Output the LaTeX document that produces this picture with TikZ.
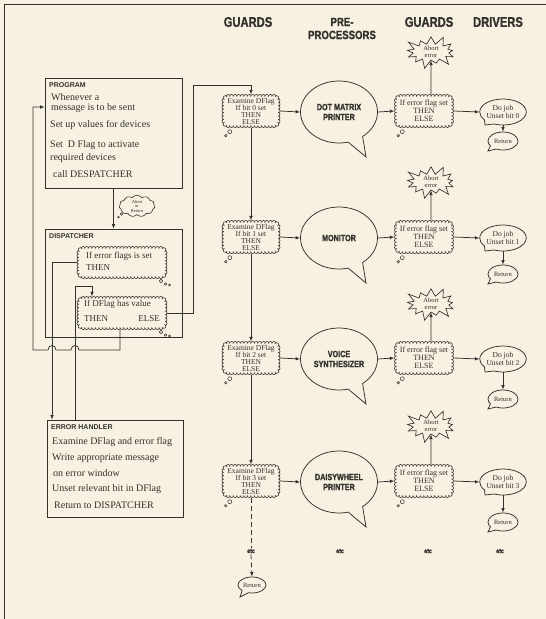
\documentclass[tikz,border=0pt]{standalone}
\usepackage{fontspec}
\setmainfont{Liberation Serif}
\newfontfamily\hdr[FakeStretch=0.8,FakeBold=1.2]{Liberation Sans}
\newfontfamily\ttl{Liberation Sans}
\usetikzlibrary{arrows.meta,shapes.symbols,shapes.callouts}
\definecolor{paper}{HTML}{F7F1E1}
\definecolor{ink}{HTML}{34302C}
\tikzset{
  ln/.style={draw=ink, line width=0.75pt},
  arr/.style={ln, -{Latex[length=4.5pt,width=3.6pt]}},
  box/.style={ln, rectangle, inner sep=0pt},
  txt/.style={anchor=west, inner sep=0pt, text=ink, text height=7pt, text depth=2pt, font=\fontsize{10}{11}\selectfont},
  btitle/.style={anchor=west, inner sep=0pt, text=ink, font=\ttl\bfseries\fontsize{7}{8}\selectfont},
  cnode/.style={rectangle, inner sep=0pt, align=center, text=ink},
  scirc/.style={draw=ink, line width=0.6pt, fill=paper},
  smallcloud/.style={cloud, cloud puffs=11, cloud puff arc=110, aspect=2, draw=ink, line width=0.6pt, fill=paper, inner sep=0pt, align=center, text=ink},
  speech/.style={ellipse callout, draw=ink, line width=0.75pt, fill=paper, inner sep=0pt, align=center, text=ink},
  burst/.style={starburst, starburst points=13, starburst point height=10pt, draw=ink, line width=0.65pt, fill=paper, inner sep=0pt, align=center, text=ink, font=\fontsize{6.5}{6.5}\selectfont},
  hd/.style={text=ink, font=\hdr\bfseries\fontsize{14}{14}\selectfont, align=center, inner sep=0pt},
  hdp/.style={text=ink, font=\hdr\bfseries\fontsize{12}{13}\selectfont, align=center, inner sep=0pt},
  bub/.style={draw=ink, line width=0.5pt, fill=paper},
  etcs/.style={text=ink, font=\hdr\bfseries\fontsize{6.5}{7}\selectfont, inner sep=1pt},
}
% scalloped "thought" outline: #1 centre, #2 outer width, #3 outer height
\newcommand\scallop[3]{%
  \begin{scope}[shift={#1}]
    \pgfmathsetmacro\sca{#2/2-2.1}%
    \pgfmathsetmacro\scb{#3/2-2.1}%
    \pgfmathsetmacro\sci{\sca-4}%
    \pgfmathsetmacro\scj{\scb-4}%
    \pgfmathtruncatemacro\scn{max(1,round(2*\sci/3.5))}%
    \pgfmathtruncatemacro\scm{max(1,round(2*\scj/3.5))}%
    \foreach \k in {0,...,\scn}{%
      \pgfmathsetmacro\px{-\sci+\k*2*\sci/\scn}%
      \draw[scirc] (\px,-\scb) circle[radius=2.1pt];
      \draw[scirc] (\px,\scb) circle[radius=2.1pt];
    }
    \foreach \k in {0,...,\scm}{%
      \pgfmathsetmacro\py{-\scj+\k*2*\scj/\scm}%
      \draw[scirc] (-\sca,\py) circle[radius=2.1pt];
      \draw[scirc] (\sca,\py) circle[radius=2.1pt];
    }
    \pgfmathsetmacro\qx{\sci+2.83}%
    \pgfmathsetmacro\qy{\scj+2.83}%
    \draw[scirc] (\qx,\qy) circle[radius=2.1pt];
    \draw[scirc] (-\qx,\qy) circle[radius=2.1pt];
    \draw[scirc] (\qx,-\qy) circle[radius=2.1pt];
    \draw[scirc] (-\qx,-\qy) circle[radius=2.1pt];
    \fill[paper, rounded corners=4pt] (-\sca,-\scb) rectangle (\sca,\scb);
  \end{scope}}
\begin{document}
\begin{tikzpicture}[x=1pt,y=-1pt]
\fill[paper] (0,0) rectangle (546,619);
\useasboundingbox (0,0) rectangle (546,619);
\draw[ln] (4.5,619) -- (4.5,4.5) -- (546,4.5);

% headers
\node[hd] (h1) at (248,22) {GUARDS};
\node[hdp] (h2) at (342,28.5) {PRE-\\PROCESSORS};
\node[hd] (h3) at (429,22) {GUARDS};
\node[hd] (h4) at (498,22) {DRIVERS};

% left column boxes
\node[box, minimum width=137pt, minimum height=110pt] (prog) at (113.5,133) {};
\node[btitle] (progt) at (49,85) {PROGRAM};
\node[txt] (pr1) at (51,98) {Whenever a};
\node[txt] (pr2) at (51,108) {message is to be sent};
\node[txt] (pr3) at (50,125) {Set up values for devices};
\node[txt] (pr4) at (50,145) {Set\ \ D Flag to activate};
\node[txt] (pr5) at (50,158) {required devices};
\node[txt] (pr6) at (53,175) {call DESPATCHER};

\node[box, minimum width=137pt, minimum height=108pt] (disp) at (113.5,283) {};
\node[btitle] (dispt) at (49,236) {DISPATCHER};

\node[box, minimum width=136pt, minimum height=97pt] (eh) at (115,468.5) {};
\node[btitle] (eht) at (51,427) {ERROR HANDLER};
\node[txt] (eh1) at (52,442) {Examine DFlag and error flag};
\node[txt] (eh2) at (52,458) {Write appropriate message};
\node[txt] (eh3) at (53,474) {on error window};
\node[txt] (eh4) at (52,489) {Unset relevant bit in DFlag};
\node[txt] (eh5) at (54,506) {Return to DISPATCHER};

% coordinates for connector routing
\coordinate (xa) at (52,0);
\coordinate (xb) at (75,0);
\coordinate (xc) at (120,0);
\coordinate (c1) at (92,286);
\coordinate (tj) at (33,107);
\coordinate (el) at (193,85);

% dispatcher clouds
\scallop{(122,262.5)}{90}{32}
\node[cnode, minimum width=90pt, minimum height=32pt] (errc) at (122,262.5) {};
\node[txt, font=\fontsize{9}{10}\selectfont] (ec1) at (86,255.5) {If error flags is set};
\node[txt, font=\fontsize{9}{10}\selectfont] (ec2) at (86,268) {THEN};
\draw[bub] (161,281) circle[radius=1.8pt];
\draw[bub] (165.5,284) circle[radius=1.3pt];
\draw[bub] (169.5,285) circle[radius=1pt];

\scallop{(122,313)}{90}{33}
\node[cnode, minimum width=90pt, minimum height=33pt] (dfc) at (122,313) {};
\node[txt, font=\fontsize{9}{10}\selectfont] (dc1) at (84,304) {If DFlag has value};
\node[txt, font=\fontsize{9}{10}\selectfont] (dc2) at (84,319) {THEN};
\node[txt, anchor=east, font=\fontsize{9}{10}\selectfont] (dc3) at (160,319) {ELSE};
\draw[bub] (161,332) circle[radius=1.8pt];
\draw[bub] (165.5,335) circle[radius=1.3pt];
\draw[bub] (169.5,336) circle[radius=1pt];

% Abort or Return cloud
\node[smallcloud, minimum width=34pt, minimum height=18pt, font=\fontsize{4.5}{4.5}\selectfont] (ar) at (137,206) {Abort\\or\\Return};
\draw[bub] (121.5,214) circle[radius=1.3pt];
\draw[bub] (118.5,217) circle[radius=0.9pt];

% left connectors
\draw[arr] (prog) -- (disp);
\draw[arr] (errc.west) -| (xa |- eh.north);
\draw[arr] (xb |- eh.north) |- (c1) -- (c1 |- dfc.north);
\draw[arr] (xc |- dfc.south) -- (120,350) -- (79,350) .. controls (79,344) and (71,344) .. (71,350)
   -- (56,350) .. controls (56,344) and (48,344) .. (48,350) -- (33,350) -- (tj) -- (tj -| prog.west);

% device rows
\foreach \i/\y/\pre/\ro/\so in {0/111/{DOT MATRIX\\PRINTER}/30/59,1/237/{MONITOR}/37/55,2/358/{VOICE\\SYNTHESIZER}/41/54,3/481/{DAISYWHEEL\\PRINTER}/41/55}{
  \scallop{(251,\y)}{58}{33}
  \node[cnode, minimum width=58pt, minimum height=33pt, font=\fontsize{7.5}{7}\selectfont] (ga\i) at (251,\y) {Examine DFlag\\If bit \i\ set\\THEN\\ELSE};
  \draw[bub] ([shift={(8,4)}]ga\i.south west) circle[radius=2pt];
  \draw[bub] ([shift={(4,8)}]ga\i.south west) circle[radius=1.3pt];
  \node[speech, minimum width=77pt, minimum height=62pt, callout absolute pointer={(366,\y+46)}, callout pointer arc=24, font=\hdr\bfseries\fontsize{9}{10}\selectfont] (pp\i) at (339,\y+1) {\pre};
  \scallop{(424,\y)}{59}{33}
  \node[cnode, minimum width=59pt, minimum height=33pt, font=\fontsize{8}{8}\selectfont] (gb\i) at (424,\y) {If error flag set\\THEN\\ELSE};
  \draw[bub] ([shift={(8,4)}]gb\i.south west) circle[radius=2pt];
  \draw[bub] ([shift={(4,8)}]gb\i.south west) circle[radius=1.3pt];
  \node[burst, minimum width=56pt, minimum height=36pt] (ab\i) at (431,\y-\so) {Abort\\error};
  \node[speech, minimum width=44pt, minimum height=26pt, callout absolute pointer={(485,\y+14)}, callout pointer arc=30, font=\fontsize{7.5}{8}\selectfont] (dj\i) at (503,\y+1) {Do job\\Unset bit \i};
  \node[speech, minimum width=30pt, minimum height=18pt, callout absolute pointer={(488,\y+\ro+10)}, callout pointer arc=30, font=\fontsize{6.5}{7}\selectfont] (rt\i) at (503,\y+\ro) {Return};
  \draw[arr] (ga\i.east) -- (pp\i.west);
  \draw[arr] (pp\i.east) -- (gb\i.west);
  \draw[arr] (gb\i.east) -- (dj\i.west);
  \draw[arr] (dj\i.south) -- (rt\i.north);
  \draw[arr] (gb\i.north -| ab\i.center) -- (ab\i);
}

\draw[arr] (dfc.east) -- (el |- dfc.east) -- (el) -| (ga0.north);
\draw[arr] (ga0.south) -- (ga1.north);
\draw[arr] (ga1.south) -- (ga2.north);
\draw[arr] (ga2.south) -- (ga3.north);

% etc
\node[etcs] (etc1) at (251,551) {etc};
\node[etcs] (etc2) at (340,551) {etc};
\node[etcs] (etc3) at (428,551) {etc};
\node[etcs] (etc4) at (500,551) {etc};
\node[speech, minimum width=28pt, minimum height=16pt, callout absolute pointer={(240,597)}, callout pointer arc=30, font=\fontsize{6.5}{7}\selectfont] (rtb) at (252,585) {Return};
\draw[ln, dash pattern=on 5pt off 3pt] (ga3.south) -- (etc1.north);
\draw[arr, dash pattern=on 5pt off 3pt] (etc1.south) -- (rtb.north);
\end{tikzpicture}
\end{document}
